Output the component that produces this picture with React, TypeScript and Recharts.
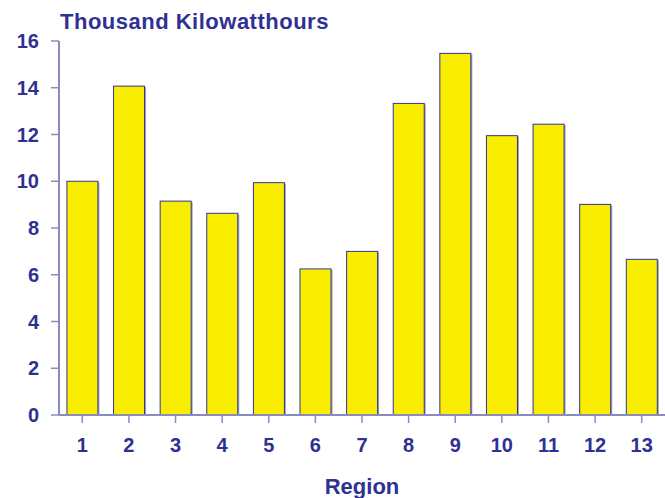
import { BarChart, Bar, XAxis, YAxis, Label } from "recharts";

const regions = ["1", "2", "3", "4", "5", "6", "7", "8", "9", "10", "11", "12", "13"];
const consumption = [10.0, 14.07, 9.15, 8.63, 9.94, 6.25, 7.0, 13.33, 15.47, 11.95, 12.44, 9.01, 6.66];
const yTicks = [0, 2, 4, 6, 8, 10, 12, 14, 16];

const data = regions.map((region, i) => ({ region, value: consumption[i] }));

const navy = "#2e3192";
const axisColor = "#8a8cc0";
const font = "'Liberation Sans', Arial, sans-serif";

const BarShape = (props: any) => {
  const { x, y, width, height } = props;
  if (!height || height <= 0) return null;
  return (
    <g>
      <rect x={x + 1.5} y={y + 1} width={width} height={height - 1} fill="#a0a0b4" />
      <rect x={x} y={y} width={width} height={height} fill="#f9ee00" stroke="#33339a" strokeWidth={1} />
    </g>
  );
};

const TitleLabel = (props: any) => {
  const vb = props.viewBox;
  return (
    <text
      x={vb.x + vb.width + 1}
      y={vb.y - 12}
      fill={navy}
      fontSize={22}
      fontWeight="bold"
      fontFamily={font}
      letterSpacing={0.5}
    >
      Thousand Kilowatthours
    </text>
  );
};

const RegionLabel = (props: any) => {
  const vb = props.viewBox;
  return (
    <text
      x={vb.x + vb.width / 2}
      y={vb.y + vb.height - 4}
      fill={navy}
      fontSize={22}
      fontWeight="bold"
      fontFamily={font}
      textAnchor="middle"
    >
      Region
    </text>
  );
};

export default function App() {
  return (
    <div style={{ position: "absolute", left: 0, top: 0, background: "#fff" }}>
      <BarChart
        width={665}
        height={498}
        data={data}
        margin={{ top: 41, right: 0, bottom: 0, left: 0 }}
        barCategoryGap="17%"
      >
        <XAxis
          dataKey="region"
          height={83}
          tickSize={8}
          tickMargin={15}
          axisLine={{ stroke: axisColor, strokeWidth: 2 }}
          tickLine={{ stroke: axisColor, strokeWidth: 1.5 }}
          tick={{ fill: navy, fontSize: 20, fontWeight: "bold", fontFamily: font }}
        >
          <Label content={<RegionLabel />} />
        </XAxis>
        <YAxis
          width={59}
          domain={[0, 16]}
          ticks={yTicks}
          interval={0}
          tickSize={8}
          tickMargin={12}
          axisLine={{ stroke: axisColor, strokeWidth: 2 }}
          tickLine={{ stroke: axisColor, strokeWidth: 1.5 }}
          tick={{ fill: navy, fontSize: 20, fontWeight: "bold", fontFamily: font }}
        >
          <Label content={<TitleLabel />} />
        </YAxis>
        <Bar dataKey="value" shape={<BarShape />} isAnimationActive={false} />
      </BarChart>
    </div>
  );
}
